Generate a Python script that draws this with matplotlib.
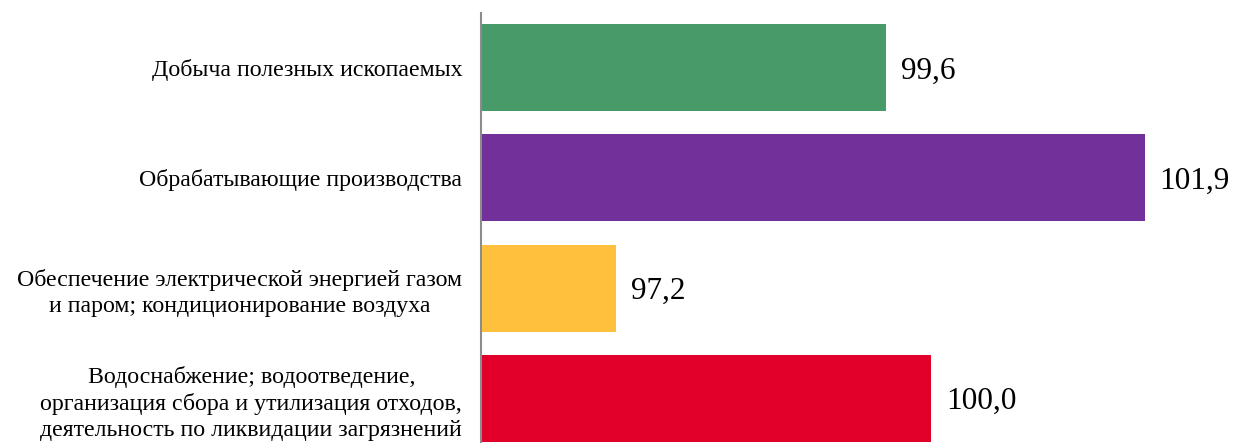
import matplotlib
matplotlib.use("Agg")
import matplotlib.pyplot as plt

categories = [
    "Добыча полезных ископаемых",
    "Обрабатывающие производства",
    "Обеспечение электрической энергией газом\nи паром; кондиционирование воздуха",
    "Водоснабжение; водоотведение,\nорганизация сбора и утилизация отходов,\nдеятельность по ликвидации загрязнений",
]
values = [99.6, 101.9, 97.2, 100.0]
value_labels = ["99,6", "101,9", "97,2", "100,0"]
colors = ["#489a69", "#71309a", "#ffc13d", "#e2002b"]

plt.rcParams['font.family'] = ['Liberation Serif', 'DejaVu Serif']

fig = plt.figure(figsize=(12.34, 4.43), dpi=100)
# axis line at x=481px, data starts at 96
ax = fig.add_axes([481 / 1234, 0.0, 1 - 481 / 1234, 1 - 13 / 443])

base = 96.0
pos = list(range(len(values)))
ax.barh(pos, [v - base for v in values], left=base, height=0.79, color=colors)

for y, v, lab in zip(pos, values, value_labels):
    ax.text(v + 0.13, y + 0.03, lab, va='center', ha='left', fontsize=22.5)

ax.set_xlim(base, base + (1234 - 481) / 112.55)
ax.set_ylim(3.405, -0.495)
ax.set_yticks(pos)
ax.set_yticklabels(categories, fontsize=17.2, multialignment='center',
                   linespacing=1.3)
ax.tick_params(axis='y', length=0, pad=13.5)
ax.set_xticks([])

for s in ['top', 'right', 'bottom']:
    ax.spines[s].set_visible(False)
ax.spines['left'].set_color('#8c8c8c')
ax.spines['left'].set_linewidth(1.5)

fig.savefig("out.png", dpi=100)
